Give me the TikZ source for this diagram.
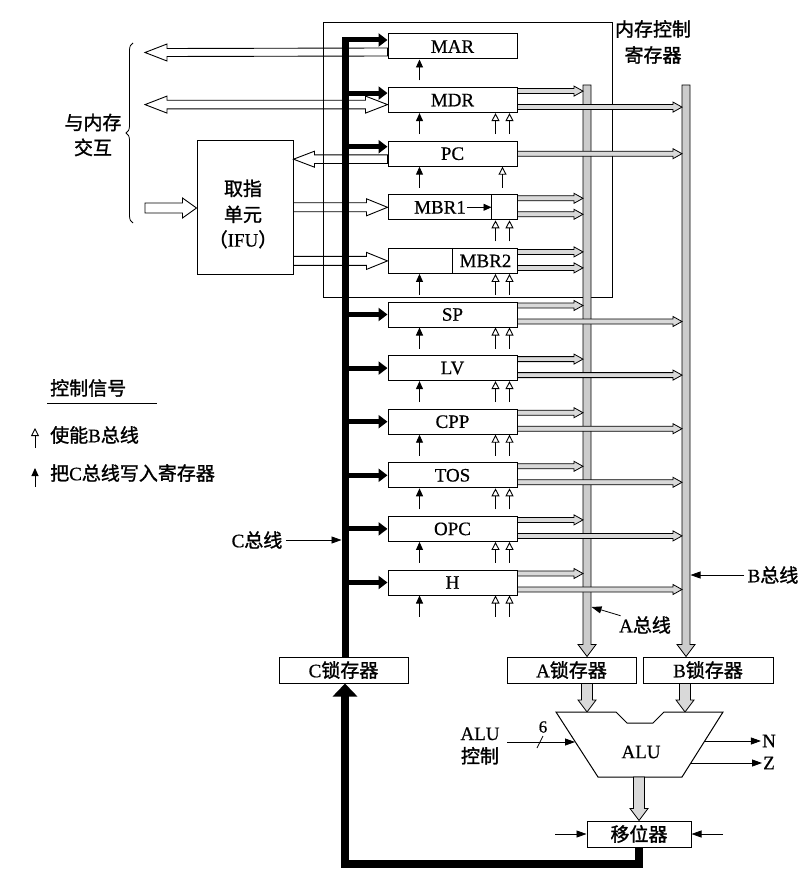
\documentclass[tikz,border=0pt]{standalone}
\usepackage{fontspec}
\setmainfont{Liberation Serif}[FakeBold=0.6]
\newfontfamily\cjk{Noto Sans CJK SC}[FakeBold=1.4]
\usetikzlibrary{calc,arrows.meta,decorations.pathreplacing}
% block arrows: [style]{start}{tip}{half shaft}{half head}{head length}
\newcommand\RArr[6][]{\draw[#1] ($(#2)+(0,-#4)$) -- ($(#3)+(-#6,-#4)$) -- ($(#3)+(-#6,-#5)$) -- (#3) -- ($(#3)+(-#6,#5)$) -- ($(#3)+(-#6,#4)$) -- ($(#2)+(0,#4)$) -- cycle;}
\newcommand\LArr[6][]{\draw[#1] ($(#2)+(0,-#4)$) -- ($(#3)+(#6,-#4)$) -- ($(#3)+(#6,-#5)$) -- (#3) -- ($(#3)+(#6,#5)$) -- ($(#3)+(#6,#4)$) -- ($(#2)+(0,#4)$) -- cycle;}
\newcommand\DArr[6][]{\draw[#1] ($(#2)+(-#4,0)$) -- ($(#3)+(-#4,-#6)$) -- ($(#3)+(-#5,-#6)$) -- (#3) -- ($(#3)+(#5,-#6)$) -- ($(#3)+(#4,-#6)$) -- ($(#2)+(#4,0)$) -- cycle;}
\newcommand\LRArr[6][]{\draw[#1] (#2) -- ($(#2)+(#6,-#5)$) -- ($(#2)+(#6,-#4)$) -- ($(#3)+(-#6,-#4)$) -- ($(#3)+(-#6,-#5)$) -- (#3) -- ($(#3)+(-#6,#5)$) -- ($(#3)+(-#6,#4)$) -- ($(#2)+(#6,#4)$) -- ($(#2)+(#6,#5)$) -- cycle;}
\begin{document}
\begin{tikzpicture}[x=1pt,y=-1pt,font=\fontsize{19}{23}\selectfont,
  reg/.style={draw,line width=1pt,fill=white,minimum width=129pt,minimum height=25pt,inner sep=0pt},
  latch/.style={draw,line width=1pt,fill=white,minimum height=26pt,inner sep=0pt},
  memarrow/.style={draw,line width=0.9pt,fill=white},
  grayarrow/.style={draw,line width=0.8pt,fill=gray!30},
  busbar/.style={draw,line width=0.8pt,fill=gray!40},
  cbranch/.style={line width=5pt,-{Triangle[length=9pt,width=13pt]}},
  wsig/.style={line width=0.9pt,-{Triangle[length=8pt,width=7pt]}},
  bsig/.style={line width=0.9pt,-{Triangle[open,length=8pt,width=8pt]}},
  thinarr/.style={line width=0.8pt,-{Triangle[length=10pt,width=7pt]}}]
\useasboundingbox (0,0) rectangle (810,877);
% ---------- nodes ----------
\node[latch,minimum width=129pt] (Clatch) at (343.5,670) {C{\cjk 锁存器}};
\node[latch,minimum width=129pt] (Alatch) at (571.5,670) {A{\cjk 锁存器}};
\node[latch,minimum width=130pt] (Blatch) at (708,670) {B{\cjk 锁存器}};
\node[latch,minimum width=104pt] (Shifter) at (639,834) {\cjk 移位器};
\node[draw,line width=1pt,minimum width=96pt,minimum height=133pt,inner sep=0pt] (IFU) at (245,207.5) {};
\node[align=center] (IFUtext) at (243,214) {{\cjk 取指}\\[3pt]{\cjk 单元}\\[2pt]{\cjk （}IFU{\cjk ）}};
\node[reg] (MAR) at (452.5,46.5) {MAR};
\node[reg] (MDR) at (452.5,100.1) {MDR};
\node[reg] (PC) at (452.5,153.7) {PC};
\node[reg] (MBR1) at (452.5,207.3) {};
\node[reg] (MBR2) at (452.5,260.9) {};
\node[reg] (SP) at (452.5,314.5) {SP};
\node[reg] (LV) at (452.5,368.1) {LV};
\node[reg] (CPP) at (452.5,421.7) {CPP};
\node[reg] (TOS) at (452.5,475.3) {TOS};
\node[reg] (OPC) at (452.5,528.9) {OPC};
\node[reg] (H) at (452.5,582.5) {H};
% MBR1 / MBR2 interiors
\draw[line width=1pt] ($(MBR1.north west)+(104,0)$) -- ($(MBR1.south west)+(104,0)$);
\node[inner sep=1pt] (mbrA) at (440,207.3) {MBR1};
\draw[line width=0.9pt,-{Triangle[length=8pt,width=7pt]}] (mbrA.east) -- ($(MBR1.west)+(104,0)$);
\draw[line width=1pt] ($(MBR2.north west)+(65,0)$) -- ($(MBR2.south west)+(65,0)$);
\node (mbrB) at (485.5,260.9) {MBR2};
% ---------- memory interaction arrows ----------
\coordinate (marM) at ($(MAR.north west)+(0,18.5)$);
\coordinate (memA) at (145,52.5);
\LArr[memarrow]{marM}{memA}{4}{8.5}{22}
\coordinate (mdrM) at ($(MDR.north west)+(0,17.5)$);
\coordinate (memB) at (mdrM -| memA);
\LRArr[memarrow]{memB}{mdrM}{4.3}{8.5}{22}
\coordinate (pcM) at ($(PC.north west)+(0,18.5)$);
\LArr[memarrow]{pcM}{IFU.east |- pcM}{4.3}{8}{21}
\coordinate (memC) at (145,208);
\RArr[memarrow]{memC}{IFU.west |- memC}{5}{10}{14}
\RArr[memarrow]{IFU.east |- MBR1.west}{MBR1.west}{4.5}{8.5}{21}
\RArr[memarrow]{IFU.east |- MBR2.west}{MBR2.west}{4.5}{8.5}{21}
% memory control box
\node[draw,line width=0.9pt,minimum width=289pt,minimum height=275pt,inner sep=0pt] (memctl) at (467.5,159.5) {};
\node[align=center,font=\cjk\fontsize{19}{26}\selectfont] (memlbl) at (653,42) {内存控制\\寄存器};
% brace
\draw[line width=0.8pt,decorate,decoration={brace,amplitude=7pt}] (133,223) -- (133,43);
\node[align=center,font=\cjk\fontsize{19}{25}\selectfont] (memio) at (93,135) {与内存\\交互};
% ---------- A / B buses ----------
\coordinate (Atop) at (587,85);
\coordinate (Btop) at (686,85);
\coordinate (AbusW) at (583,0);
\coordinate (BbusW) at (682,0);
\DArr[busbar]{Atop}{Alatch.north -| Atop}{4}{9}{12}
\DArr[busbar]{Btop}{Blatch.north -| Btop}{4}{9}{12}
\foreach \rg in {MDR,SP,LV,CPP,TOS,OPC,H}{
  \coordinate (\rg a) at ($(\rg.north east)+(0,4)$);
  \coordinate (\rg b) at ($(\rg.north east)+(0,20)$);
  \RArr[grayarrow]{\rg a}{AbusW |- \rg a}{2.5}{5}{9}
  \RArr[grayarrow]{\rg b}{BbusW |- \rg b}{2.5}{5}{9}
}
\foreach \rg in {MBR1,MBR2}{
  \coordinate (\rg a) at ($(\rg.north east)+(0,4)$);
  \coordinate (\rg b) at ($(\rg.north east)+(0,20)$);
  \RArr[grayarrow]{\rg a}{AbusW |- \rg a}{2.5}{5}{9}
  \RArr[grayarrow]{\rg b}{AbusW |- \rg b}{2.5}{5}{9}
}
\RArr[grayarrow]{PC.east}{BbusW |- PC.east}{2.5}{5}{9}
% ---------- ALU ----------
\coordinate (aluInA) at (587,712);
\coordinate (aluInB) at (685,712);
\coordinate (aluOut) at (639,777);
\DArr[grayarrow]{Alatch.south -| aluInA}{aluInA}{5.5}{9}{12}
\DArr[grayarrow]{Blatch.south -| aluInB}{aluInB}{5.5}{9}{12}
\draw[line width=1pt,fill=white] (556,712) -- (616,712) -- (627,723) -- (653,723) -- (664,712) -- (723,712) -- (682,777) -- (598,777) -- cycle;
\node (ALU) at (641,752) {ALU};
\DArr[grayarrow]{aluOut}{Shifter.north}{5.5}{9}{12}
\node[align=center] (aluctl) at (480,746) {ALU\\{\cjk 控制}};
\coordinate (ctlS) at (507,742);
\coordinate (ctlE) at (575,742);
\draw[thinarr] (ctlS) -- (ctlE);
\draw[line width=0.8pt] (537,748) -- (543,736);
\node[font=\fontsize{17}{20}\selectfont] (six) at (543,727) {6};
\coordinate (Nst) at (705,741);
\coordinate (Zst) at (691,763);
\node[inner sep=1pt] (N) at (769,741) {N};
\node[inner sep=1pt] (Z) at (769,763) {Z};
\draw[thinarr] (Nst) -- (N.west);
\draw[thinarr] (Zst) -- (Z.west);
\coordinate (shL) at (555,834);
\coordinate (shR) at (723,834);
\draw[thinarr] (shL) -- (Shifter.west);
\draw[thinarr] (shR) -- (Shifter.east);
% ---------- C bus ----------
\coordinate (ctop) at (345,37.5);
\coordinate (cbot) at (345,864);
\draw[line width=7pt] (ctop |- Clatch.north) -- (ctop);
\foreach \rg/\dy in {MAR/6.5,MDR/6,PC/6}{
  \coordinate (\rg c) at ($(\rg.north west)+(0,\dy)$);
  \draw[cbranch] (ctop |- \rg c) -- (\rg c);
}
\foreach \rg in {SP,LV,CPP,TOS,OPC,H}{
  \draw[cbranch] (ctop |- \rg.west) -- (\rg.west);
}
\draw[line width=8pt,-{Triangle[length=13pt,width=24pt]}] (Shifter.south) |- (cbot) -- (Clatch.south -| cbot);
% ---------- control signals ----------
\foreach \rg in {MAR,MDR,PC,MBR2,SP,LV,CPP,TOS,OPC,H}{
  \draw[wsig] ($(\rg.south west)+(32,21)$) -- ($(\rg.south west)+(32,0)$);
}
\foreach \rg in {MDR,MBR1,MBR2,SP,LV,CPP,TOS,OPC,H}{
  \draw[bsig] ($(\rg.south west)+(108,21)$) -- ($(\rg.south west)+(108,0)$);
  \draw[bsig] ($(\rg.south west)+(122,21)$) -- ($(\rg.south west)+(122,0)$);
}
\draw[bsig] ($(PC.south west)+(115,21)$) -- ($(PC.south west)+(115,0)$);
% ---------- labels ----------
\node (Clbl) at (257,540) {C{\cjk 总线}};
\coordinate (cbusL) at (341.5,0);
\draw[thinarr] (Clbl.east) -- (cbusL |- Clbl.east);
\node (Albl) at (645,625) {A{\cjk 总线}};
\coordinate (Aptr) at (591.5,607);
\draw[thinarr] ($(Albl.north west)+(5,3)$) -- (Aptr);
\node (Blbl) at (773,575) {B{\cjk 总线}};
\coordinate (BbusE) at (690.5,0);
\draw[thinarr] (Blbl.west) -- (BbusE |- Blbl.west);
% legend
\node[anchor=west,inner sep=0pt] (leg) at (50,388) {\cjk 控制信号};
\coordinate (legL) at (47,403);
\coordinate (legR) at (157,403);
\draw[line width=0.8pt] (legL) -- (legR);
\node[anchor=west,inner sep=0pt] (legB) at (50,435) {{\cjk 使能}B{\cjk 总线}};
\draw[bsig] ($(legB.west)+(-15,13)$) -- ($(legB.west)+(-15,-7)$);
\node[anchor=west,inner sep=0pt] (legC) at (50,473) {{\cjk 把}C{\cjk 总线写入寄存器}};
\draw[wsig] ($(legC.west)+(-15,14)$) -- ($(legC.west)+(-15,-5)$);
\end{tikzpicture}
\end{document}
